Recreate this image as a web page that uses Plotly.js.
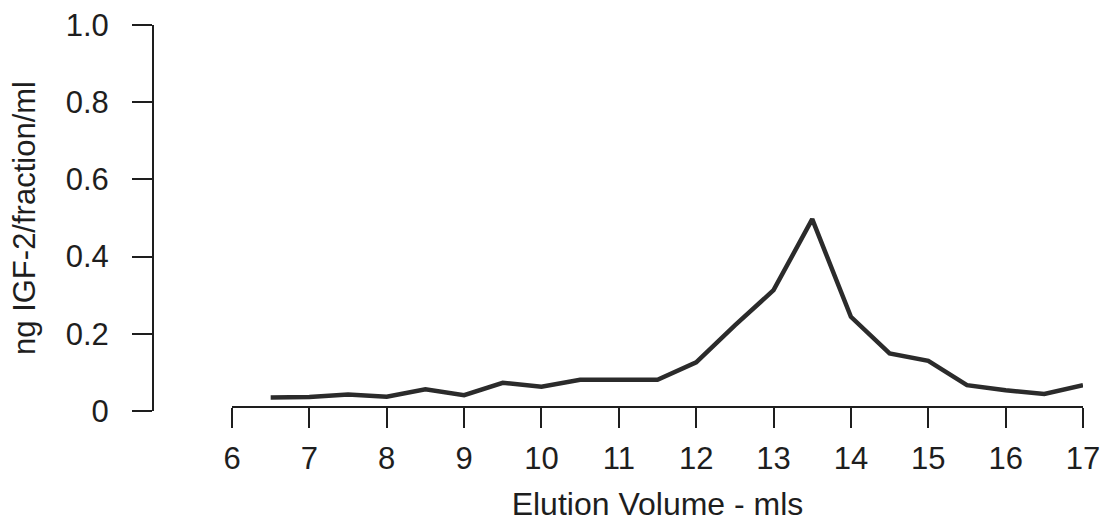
<!DOCTYPE html>
<html>
<head>
<meta charset="utf-8">
<script src="https://cdn.plot.ly/plotly-3.0.1.min.js"></script>
<style>html,body{margin:0;padding:0;background:#fff;}#chart{width:1106px;height:526px;}</style>
</head>
<body>
<div id="chart"></div>
<script>
// Elution volume (mls)
const elutionVolume = [6.5, 7, 7.5, 8, 8.5, 9, 9.5, 10, 10.5, 11, 11.5, 12, 12.5, 13, 13.5, 14, 14.5, 15, 15.5, 16, 16.5, 17];
// ng IGF-2 / fraction / ml
const igf2 = [0.035, 0.036, 0.043, 0.037, 0.056, 0.041, 0.073, 0.063, 0.081, 0.081, 0.081, 0.126, 0.222, 0.313, 0.497, 0.244, 0.149, 0.130, 0.067, 0.054, 0.044, 0.067];

const xTickVals = [6, 7, 8, 9, 10, 11, 12, 13, 14, 15, 16, 17];
const xTickText = ["6", "7", "8", "9", "10", "11", "12", "13", "14", "15", "16", "17"];
const yTickVals = [0, 0.2, 0.4, 0.6, 0.8, 1.0];
const yTickText = ["0", "0.2", "0.4", "0.6", "0.8", "1.0"];

const FONT = "'Liberation Sans', Arial, Helvetica, sans-serif";
const INK = "#1e1e1e";

const trace = {
  x: elutionVolume,
  y: igf2,
  type: "scatter",
  mode: "lines",
  line: {color: "#2b2b2b", width: 4.5},
  hoverinfo: "skip"
};

const layout = {
  width: 1106,
  height: 526,
  margin: {l: 153, r: 23, t: 25, b: 115},
  paper_bgcolor: "#ffffff",
  plot_bgcolor: "#ffffff",
  showlegend: false,
  font: {family: FONT, color: INK, size: 31},
  xaxis: {
    range: [6, 17],
    domain: [79 / 930, 1],
    anchor: "free",
    position: 4 / 386,
    showgrid: false,
    zeroline: false,
    showline: true,
    linecolor: INK,
    linewidth: 2,
    ticks: "outside",
    ticklen: 20,
    tickwidth: 2,
    tickcolor: INK,
    tickvals: xTickVals,
    ticktext: xTickText,
    ticklabelstandoff: 4,
    tickfont: {family: FONT, size: 31, color: INK},
    title: {text: "Elution Volume - mls", font: {family: FONT, size: 32, color: INK}, standoff: 16},
    automargin: false
  },
  yaxis: {
    range: [0, 1],
    anchor: "free",
    position: 0,
    showgrid: false,
    zeroline: false,
    showline: true,
    linecolor: INK,
    linewidth: 2,
    ticks: "outside",
    ticklen: 20,
    tickwidth: 2,
    tickcolor: INK,
    tickvals: yTickVals,
    ticktext: yTickText,
    ticklabelstandoff: 17,
    tickfont: {family: FONT, size: 31, color: INK},
    title: {text: "ng IGF-2/fraction/ml", font: {family: FONT, size: 31, color: INK}, standoff: 20},
    automargin: false
  }
};

Plotly.newPlot("chart", [trace], layout, {staticPlot: true, displayModeBar: false});
</script>
</body>
</html>
